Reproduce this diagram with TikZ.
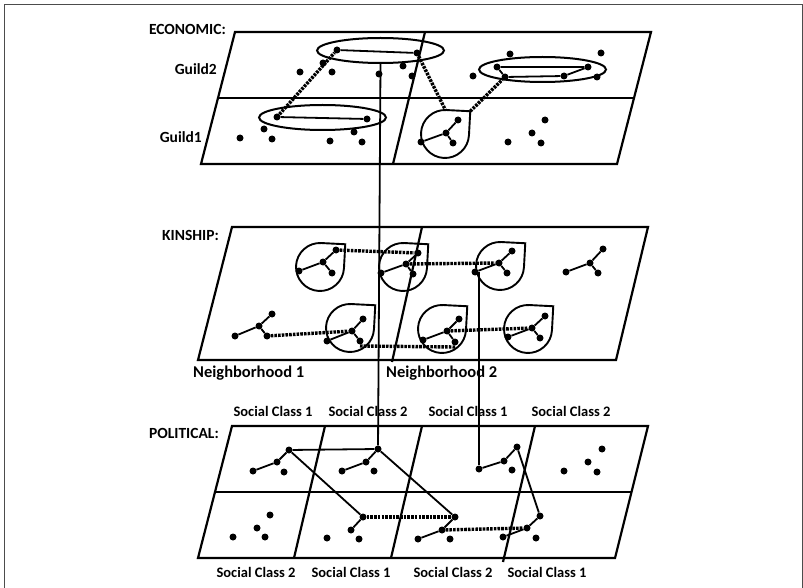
\documentclass[tikz,border=0pt]{standalone}
\usepackage{fontspec}
\setmainfont{Carlito}
\usetikzlibrary{shapes.geometric,calc}
\newcommand{\teardrop}[3]{%
  \coordinate (#1) at (#2,-#3);
  \draw[tearline] ($(#1)+(87.1:24)$) arc[start angle=87.1,end angle=356.9,radius=24] -- ($(#1)+(42:34)$) -- cycle;
  \coordinate (#1-k) at ($(#1)+(42:34)$);
  \coordinate (#1-t) at ($(#1)+(89:24)$);}
\newcommand{\dt}[3]{\node[dot] (#1) at (#2,-#3) {};}
\begin{document}
\begin{tikzpicture}[x=1pt,y=1pt,
  dot/.style={circle,fill=black,inner sep=0pt,minimum size=7pt},
  plane/.style={line width=2.2pt,line join=miter},
  link/.style={line width=1.8pt},
  tie/.style={line width=3.4pt,dash pattern=on 2.6pt off 1.1pt},
  grp/.style={ellipse,draw,line width=2pt,minimum width=127pt,minimum height=25pt,inner sep=0pt},
  tearline/.style={line width=1.9pt},
  lbl/.style={font=\bfseries\fontsize{15.5}{17}\selectfont,inner sep=0pt},
  nb/.style={font=\bfseries\fontsize{16.5}{18}\selectfont,inner sep=0pt},
  sc/.style={font=\bfseries\fontsize{14.5}{16}\selectfont,inner sep=0pt}]
\useasboundingbox (0,0) rectangle (803,-588);
\draw[gray!60!black,line width=1pt] (4,-588) -- (4,-5) -- (802,-5) -- (802,-588);

% ---------------- ECONOMIC plane
\draw[plane] (235,-32) -- (651,-32) -- (617,-164) -- (201,-164) -- cycle;
\draw[plane] (218,-98) -- (634,-98);
\draw[plane] (425,-32) -- (393,-164);
\node[lbl,anchor=east] (econ) at (226,-29) {ECONOMIC:};
\node[lbl,anchor=east] (guild2) at (217,-69) {Guild2};
\node[lbl,anchor=east] (guild1) at (202,-137) {Guild1};

\node[grp] (g2a) at (380.5,-50.5) {};
\node[grp] (g1) at (322.5,-117.5) {};
\node[grp] (g2b) at (542.5,-69.5) {};
\dt{e1}{337}{50}\dt{e2}{417}{53}
\dt{e3}{277}{117}\dt{e4}{367}{119}
\dt{e5}{323}{63}\dt{e6}{300}{72}\dt{e7}{332}{72}\dt{e8}{379}{74}\dt{e9}{403}{66}\dt{e10}{412}{76}
\dt{e11}{240}{138}\dt{e12}{264}{129}\dt{e13}{272}{139}\dt{e14}{330}{141}\dt{e15}{354}{132}\dt{e16}{362}{142}
\dt{f1}{497}{67}\dt{f2}{588}{67}\dt{f3}{564}{76}\dt{f4}{505}{77}\dt{f5}{597}{77}
\dt{f6}{510}{54}\dt{f7}{601}{53}\dt{f8}{473}{76}
\dt{f9}{508}{142}\dt{f10}{532}{133}\dt{f11}{545}{120}\dt{f12}{541}{143}
\teardrop{te}{445}{134}
\dt{th}{446}{133}\dt{ta}{458}{120}\dt{tb}{421}{142}\dt{tc}{453}{143}
\draw[link] (e1) -- (e2);
\draw[link] (e3) -- (e4);
\draw[link] (f1) -- (f2) -- (f3) -- (f4) -- (f1);
\draw[link] (th) -- (ta) (th) -- (tb) (th) -- (tc);
\draw[tie] (e3) -- (e1);
\draw[tie] (e2) -- (te-t);
\draw[tie] (te-k) -- (f4);

% ---------------- KINSHIP plane
\draw[plane] (232,-227) -- (648,-227) -- (616,-360) -- (198,-360) -- cycle;
\draw[plane] (422,-227) -- (392,-362);
\node[lbl,anchor=east] (kin) at (219,-235) {KINSHIP:};
\node[nb,anchor=west] (nb1) at (193,-373) {Neighborhood 1};
\node[nb,anchor=west] (nb2) at (386,-373) {Neighborhood 2};

\teardrop{T1}{320}{267}
\teardrop{T2}{403}{267}
\teardrop{T3}{500}{266}
\teardrop{T4}{350}{328}
\teardrop{T5}{442}{329}
\teardrop{T6}{528}{329}
\dt{k1a}{336}{250}\dt{k1h}{323}{262}\dt{k1b}{299}{271}\dt{k1c}{332}{273}
\dt{k2a}{418}{253}\dt{k2h}{406}{264}\dt{k2b}{381}{273}\dt{k2c}{413}{274}
\dt{k3a}{512}{251}\dt{k3h}{499}{263}\dt{k3b}{475}{272}\dt{k3c}{507}{273}
\dt{k7a}{603}{249}\dt{k7h}{590}{263}\dt{k7b}{566}{272}\dt{k7c}{598}{273}
\dt{k4a}{363}{319}\dt{k4h}{352}{331}\dt{k4b}{327}{341}\dt{k4c}{360}{341}
\dt{k8a}{272}{314}\dt{k8h}{259}{326}\dt{k8b}{235}{336}\dt{k8c}{267}{336}
\dt{k5a}{459}{319}\dt{k5h}{447}{331}\dt{k5b}{423}{340}\dt{k5c}{455}{342}
\dt{k6a}{545}{316}\dt{k6h}{532}{328}\dt{k6b}{508}{337}\dt{k6c}{540}{338}
\foreach \k in {k1,k2,k3,k4,k5,k6,k7,k8}{
  \draw[link] (\k h) -- (\k a) (\k h) -- (\k b) (\k h) -- (\k c);}
\draw[tie] (k1a) -- (k2a);
\draw[tie] (k2h) -- (k3h);
\draw[tie] (k8c) -- (k4h);
\draw[tie] ($(k4c)+(0,-5)$) -- ($(k5c)+(0,-5)$);
\draw[tie] (k5h) -- (k6h);

% ---------------- POLITICAL plane
\draw[plane] (232,-426) -- (648,-426) -- (615,-558) -- (198,-558) -- cycle;
\draw[plane] (215,-492) -- (631.5,-492);
\draw[plane] (325,-426) -- (294,-558);
\draw[plane] (422,-426) -- (391,-558);
\draw[plane] (535,-426) -- (503,-562);
\node[lbl,anchor=east] (pol) at (219,-433) {POLITICAL:};
\node[sc] (s1) at (273,-411) {Social Class 1};
\node[sc] (s2) at (368,-411) {Social Class 2};
\node[sc] (s3) at (468,-411) {Social Class 1};
\node[sc] (s4) at (571,-411) {Social Class 2};
\node[sc] (s5) at (256,-572) {Social Class 2};
\node[sc] (s6) at (351,-572) {Social Class 1};
\node[sc] (s7) at (453,-572) {Social Class 2};
\node[sc] (s8) at (547,-572) {Social Class 1};

\dt{p1a}{253}{471}\dt{p1b}{277}{462}\dt{p1h}{289}{450}\dt{p1c}{284}{472}
\dt{p2a}{342}{471}\dt{p2b}{366}{462}\dt{p2h}{378}{449}\dt{p2c}{374}{471}
\dt{p3a}{479}{469}\dt{p3b}{504}{461}\dt{p3h}{517}{447}\dt{p3c}{512}{470}
\dt{p4a}{564}{471}\dt{p4b}{588}{462}\dt{p4h}{602}{449}\dt{p4c}{597}{472}
\dt{q1h}{270}{515}\dt{q1b}{257}{528}\dt{q1a}{233}{537}\dt{q1c}{265}{537}
\dt{q2h}{363}{517}\dt{q2b}{351}{530}\dt{q2a}{327}{538}\dt{q2c}{359}{539}
\dt{q3h}{455}{517}\dt{q3b}{442}{530}\dt{q3a}{418}{539}\dt{q3c}{450}{539}
\dt{q4h}{540}{516}\dt{q4b}{527}{528}\dt{q4a}{503}{537}\dt{q4c}{536}{538}
\draw[link] (p1a) -- (p1b) -- (p1h);
\draw[link] (p2a) -- (p2b) -- (p2h);
\draw[link] (p3a) -- (p3b) -- (p3h);
\draw[link] (p1h) -- (p2h);
\draw[link] (p1h) -- (q2h);
\draw[link] (p2h) -- (q3h);
\draw[link] (q2h) -- (q2b);
\draw[link] (q3h) -- (q3b) -- (q3a);
\draw[link] (p3h) -- (q4h) -- (q4b) -- (q4a);
\draw[tie] (q2h) -- (q3h);
\draw[tie] (q3b) -- (q4b);

% ---------------- inter-layer links
\draw[link] (g2a.south) -- (p2h);
\draw[link] (p3a |- k3b) -- (p3a);
\end{tikzpicture}
\end{document}
